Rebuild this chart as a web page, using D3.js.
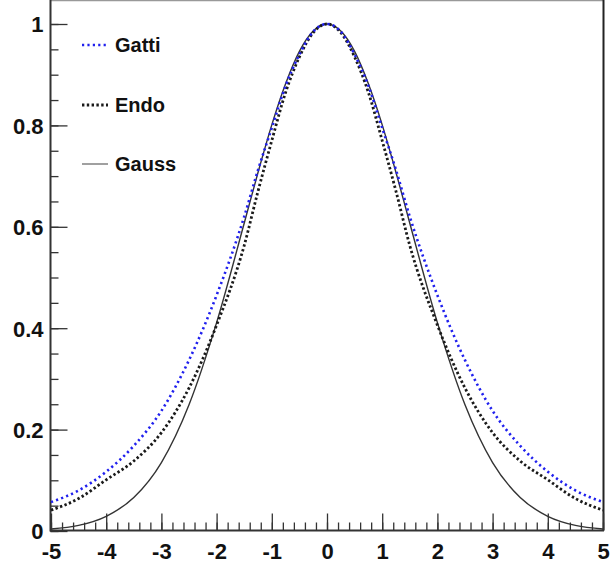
<!DOCTYPE html>
<html>
<head>
<meta charset="utf-8">
<script src="https://cdn.jsdelivr.net/npm/d3@7"></script>
<style>
  body { margin: 0; background: #fff; }
  svg { display: block; font-family: "Liberation Sans", Arial, sans-serif; }
</style>
</head>
<body>
<svg id="chart" width="612" height="569"></svg>
<script>
// values
var xs = [-5, -4.5, -4, -3.5, -3, -2.5, -2, -1.5, -1.25, -1, -0.75, -0.5, -0.25, 0,
          0.25, 0.5, 0.75, 1, 1.25, 1.5, 2, 2.5, 3, 3.5, 4, 4.5, 5];
var gatti = [0.057, 0.08, 0.117, 0.168, 0.237, 0.337, 0.465, 0.62, 0.712, 0.795, 0.878, 0.94, 0.985, 1,
             0.985, 0.94, 0.878, 0.795, 0.712, 0.62, 0.465, 0.337, 0.237, 0.168, 0.117, 0.08, 0.057];
var endo = [0.041, 0.064, 0.101, 0.138, 0.194, 0.282, 0.406, 0.563, 0.67, 0.77, 0.865, 0.935, 0.983, 1,
            0.983, 0.935, 0.865, 0.77, 0.67, 0.563, 0.406, 0.282, 0.194, 0.138, 0.101, 0.064, 0.041];
var gauss = [0.004, 0.011, 0.029, 0.066, 0.135, 0.249, 0.411, 0.607, 0.707, 0.801, 0.882, 0.946, 0.986, 1,
             0.986, 0.946, 0.882, 0.801, 0.707, 0.607, 0.411, 0.249, 0.135, 0.066, 0.029, 0.011, 0.004];

var xTicks = [-5, -4, -3, -2, -1, 0, 1, 2, 3, 4, 5];
var xTickLabels = ["-5", "-4", "-3", "-2", "-1", "0", "1", "2", "3", "4", "5"];
var yTicks = [0, 0.2, 0.4, 0.6, 0.8, 1];
var yTickLabels = ["0", "0.2", "0.4", "0.6", "0.8", "1"];
var legendNames = ["Gatti", "Endo", "Gauss"];

var svg = d3.select('#chart');

var left = 50.5, right = 603, bottom = 530.5;

var x = d3.scaleLinear().domain([-5, 5]).range([51, 603]);
var y = d3.scaleLinear().domain([0, 1]).range([531, 24]);

// frame
svg.append('line')
  .attr('x1', left).attr('x2', right).attr('y1', 0.5).attr('y2', 0.5)
  .style('stroke', '#999').style('stroke-width', 1.5);
svg.append('line')
  .attr('x1', right + 0.5).attr('x2', right + 0.5).attr('y1', 0).attr('y2', bottom)
  .style('stroke', '#222').style('stroke-width', 2);

// minor ticks
var yMinor = d3.range(0, 21).map(function(i) { return i * 0.05; });
var xMinor = d3.range(0, 51).map(function(i) { return -5 + i * 0.2; });

svg.append('g')
  .attr('transform', 'translate(' + left + ',0)')
  .call(d3.axisLeft(y).tickValues(yMinor).tickSize(-8).tickFormat(''))
  .call(function(g) { g.select('.domain').remove(); });

svg.append('g')
  .attr('transform', 'translate(0,' + bottom + ')')
  .call(d3.axisBottom(x).tickValues(xMinor).tickSize(-8).tickFormat(''))
  .call(function(g) { g.select('.domain').remove(); });

// major axes
var yAxis = d3.axisLeft(y)
  .tickValues(yTicks)
  .tickSizeInner(-17)
  .tickSizeOuter(0)
  .tickPadding(7)
  .tickFormat(function(d, i) { return yTickLabels[i]; });

var xAxis = d3.axisBottom(x)
  .tickValues(xTicks)
  .tickSizeInner(-17)
  .tickSizeOuter(0)
  .tickPadding(13)
  .tickFormat(function(d, i) { return xTickLabels[i]; });

var gy = svg.append('g')
  .attr('transform', 'translate(' + left + ',0)')
  .call(yAxis);
gy.select('.domain').attr('d', 'M0,0V' + (bottom + 1));

var gx = svg.append('g')
  .attr('transform', 'translate(0,' + bottom + ')')
  .call(xAxis);
gx.select('.domain').attr('d', 'M' + left + ',0H' + (right + 1));

svg.selectAll('.tick line').style('stroke', '#333').style('stroke-width', 1.3);
svg.selectAll('.domain').style('stroke', '#333').style('stroke-width', 2);
svg.selectAll('.tick text')
  .style('font-size', '22px')
  .style('font-weight', 'bold')
  .style('font-family', '"Liberation Sans", Arial, sans-serif')
  .style('fill', '#111');
gy.selectAll('.tick text').attr('dy', '0.36em');

// curves
var series = [
  { name: legendNames[0], values: gatti, color: '#2020ee', width: 2.6, dash: '2.2,3.2' },
  { name: legendNames[1], values: endo, color: '#1a1a1a', width: 2.8, dash: '2.4,2.4' },
  { name: legendNames[2], values: gauss, color: '#333', width: 1.4, dash: null }
];

var line = d3.line()
  .x(function(d) { return x(d[0]); })
  .y(function(d) { return y(d[1]); })
  .curve(d3.curveMonotoneX);

series.slice().reverse().forEach(function(s) {
  var pts = xs.map(function(v, i) { return [v, s.values[i]]; });
  svg.append('path')
    .attr('d', line(pts))
    .style('fill', 'none')
    .style('stroke', s.color)
    .style('stroke-width', s.width)
    .style('stroke-dasharray', s.dash);
});

// legend
var legendY = [45, 105, 164];
series.forEach(function(s, i) {
  svg.append('line')
    .attr('x1', 82).attr('x2', 108)
    .attr('y1', legendY[i]).attr('y2', legendY[i])
    .style('stroke', i == 2 ? '#777' : s.color)
    .style('stroke-width', s.width)
    .style('stroke-dasharray', s.dash);
  svg.append('text')
    .attr('x', 115)
    .attr('y', legendY[i] + 7)
    .text(s.name)
    .style('font-size', '20px')
    .style('font-weight', 'bold')
    .style('fill', '#111');
});
</script>
</body>
</html>
